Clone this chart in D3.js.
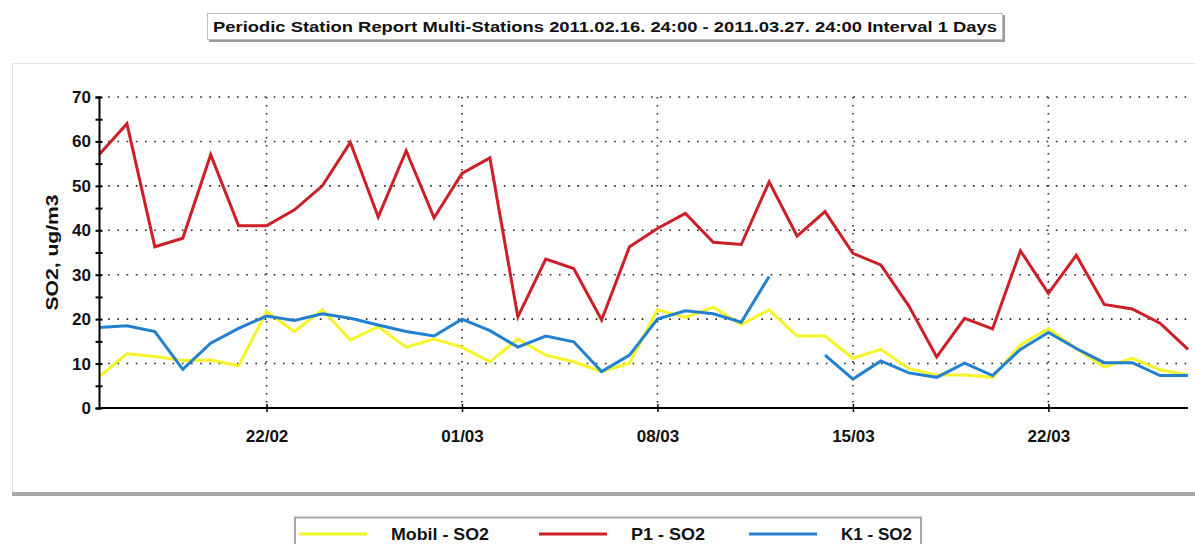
<!DOCTYPE html>
<html>
<head>
<meta charset="utf-8">
<script src="https://cdn.jsdelivr.net/npm/d3@7"></script>
<style>
  body { margin: 0; background: #fff; }
  svg text { font-family: "Liberation Sans Narrow", "Arial Narrow", "Liberation Sans", Arial, sans-serif; font-weight: bold; }
</style>
</head>
<body>
<div id="chart"></div>
<script>
// data, one value per day from 16/02/2011 to 27/03/2011
const startDay = new Date(2011, 1, 16)
const dayCount = 40
const mobil = [7, 12.2, 11.6, 10.7, 10.8, 9.5, 21.7, 17.2, 22.1, 15.3,
               18.3, 13.7, 15.5, 13.7, 10.4, 15.5, 11.9, 10.4, 8.2, 10.1,
               22.1, 20.4, 22.7, 18.8, 22.1, 16.2, 16.2, 11.2, 13.2, 8.9,
               7.4, 7.4, 6.9, 14.2, 17.9, 13.4, 9.2, 11.2, 8.6, 7.4]
const p1 = [57, 64, 36.3, 38.2, 57, 41, 41, 44.6, 50, 59.8,
            43, 57.9, 42.8, 52.8, 56.3, 20.5, 33.5, 31.4, 19.8, 36.3,
            40.4, 43.8, 37.3, 36.8, 50.9, 38.7, 44.2, 34.8, 32.2, 23,
            11.5, 20.2, 17.8, 35.4, 25.8, 34.4, 23.3, 22.3, 19.1, 13.2]
const k1 = [18.1, 18.5, 17.2, 8.7, 14.6, 17.9, 20.7, 19.7, 21.2, 20.2,
            18.7, 17.2, 16.2, 20, 17.4, 13.7, 16.2, 14.9, 8.2, 11.9,
            20, 21.9, 21.2, 19.3, 29.6, null, 11.9, 6.5, 10.6, 7.9,
            6.9, 10.1, 7.3, 13.2, 17, 13.4, 10.2, 10.2, 7.3, 7.3]
const seriesNames = ['Mobil - SO2', 'P1 - SO2', 'K1 - SO2']
const seriesColors = ['#f4f428', '#cc1f26', '#2280d0']
const tickDates = [new Date(2011, 1, 22), new Date(2011, 2, 1), new Date(2011, 2, 8),
                   new Date(2011, 2, 15), new Date(2011, 2, 22)]
const yTicks = [0, 10, 20, 30, 40, 50, 60, 70]
const titleText = 'Periodic Station Report Multi-Stations 2011.02.16. 24:00 - 2011.03.27. 24:00 Interval 1 Days'

const days = d3.range(dayCount).map(i => d3.timeDay.offset(startDay, i))
const allSeries = [mobil, p1, k1]

let dimensions = {
  width: 1195,
  height: 544,
  plot: { left: 99, right: 1188, top: 97, bottom: 408 }
}

const svg = d3.select('#chart')
              .append('svg')
              .attr('width', dimensions.width)
              .attr('height', dimensions.height)

// outer frame
svg.append('rect')
   .attr('x', 12.5).attr('y', 63.5)
   .attr('width', 1200).attr('height', 429)
   .attr('fill', '#fff')
   .attr('stroke', '#e2e2e2')
svg.append('rect')
   .attr('x', 12).attr('y', 492)
   .attr('width', 1190).attr('height', 4)
   .attr('fill', '#a6a6a6')

// title box
svg.append('rect')
   .attr('x', 209).attr('y', 15)
   .attr('width', 796).attr('height', 27)
   .attr('fill', '#9a9a9a')
svg.append('rect')
   .attr('x', 207.5).attr('y', 13.5)
   .attr('width', 795).attr('height', 26)
   .attr('fill', '#fff')
   .attr('stroke', '#bdbdbd')
svg.append('text')
   .attr('x', 605).attr('y', 32)
   .attr('text-anchor', 'middle')
   .attr('font-size', '15px')
   .attr('textLength', 784)
   .attr('lengthAdjust', 'spacingAndGlyphs')
   .attr('fill', '#111')
   .text(titleText)

// scales
const xScale = d3.scaleTime()
                 .domain([days[0], days[dayCount - 1]])
                 .range([dimensions.plot.left, dimensions.plot.right])
const yScale = d3.scaleLinear()
                 .domain([0, 70])
                 .range([dimensions.plot.bottom, dimensions.plot.top])

// dotted grid
svg.append('g')
   .selectAll('line')
   .data(yTicks.slice(1))
   .join('line')
   .attr('x1', dimensions.plot.left).attr('x2', dimensions.plot.right)
   .attr('y1', d => yScale(d)).attr('y2', d => yScale(d))
   .attr('stroke', '#222')
   .attr('stroke-width', 1.6)
   .attr('stroke-dasharray', '1.6,7.6')
svg.append('g')
   .selectAll('line')
   .data(tickDates)
   .join('line')
   .attr('x1', d => xScale(d)).attr('x2', d => xScale(d))
   .attr('y1', dimensions.plot.top).attr('y2', dimensions.plot.bottom)
   .attr('stroke', '#222')
   .attr('stroke-width', 1.6)
   .attr('stroke-dasharray', '1.6,6.4')

// lines
const line = d3.line()
               .defined(d => d.v != null)
               .x(d => xScale(d.day))
               .y(d => yScale(d.v))
allSeries.forEach((values, s) => {
  svg.append('path')
     .datum(values.map((v, i) => ({ day: days[i], v: v })))
     .attr('fill', 'none')
     .attr('stroke', seriesColors[s])
     .attr('stroke-width', 3)
     .attr('stroke-linejoin', 'miter')
     .attr('d', line)
})

// y axis
const yAxis = d3.axisLeft(yScale)
                .tickValues(d3.range(0, 71, 5))
                .tickSize(3.5)
                .tickFormat(d => d % 10 === 0 ? d : '')
const yAxisGroup = svg.append('g')
                      .attr('transform', `translate(${dimensions.plot.left},0)`)
                      .call(yAxis)
yAxisGroup.select('.domain').attr('stroke', '#000').attr('stroke-width', 2)
yAxisGroup.selectAll('.tick line').attr('x2', 3.5).attr('x1', -3.5)
          .attr('stroke', '#000').attr('stroke-width', 2)
yAxisGroup.selectAll('text')
          .attr('x', -8)
          .attr('font-size', '17px')
          .attr('font-family', '"Liberation Sans Narrow", "Arial Narrow", "Liberation Sans", sans-serif')
          .attr('font-weight', 'bold')
          .attr('fill', '#111')

svg.append('text')
   .attr('transform', `translate(58,${(dimensions.plot.top + dimensions.plot.bottom) / 2}) rotate(-90)`)
   .attr('text-anchor', 'middle')
   .attr('font-size', '17px')
   .attr('textLength', 116)
   .attr('lengthAdjust', 'spacingAndGlyphs')
   .attr('fill', '#111')
   .text('SO2, ug/m3')

// x axis
const xAxis = d3.axisBottom(xScale)
                .tickValues(tickDates)
                .tickSize(4)
                .tickFormat(d3.timeFormat('%d/%m'))
const xAxisGroup = svg.append('g')
                      .attr('transform', `translate(0,${dimensions.plot.bottom})`)
                      .call(xAxis)
xAxisGroup.select('.domain').attr('stroke', '#000').attr('stroke-width', 2)
          .attr('d', `M${dimensions.plot.left},0H${dimensions.plot.right}`)
xAxisGroup.selectAll('.tick line').attr('y1', -4).attr('y2', 4)
          .attr('stroke', '#000').attr('stroke-width', 1.5)
xAxisGroup.selectAll('text')
          .attr('y', 22)
          .attr('font-size', '17px')
          .attr('font-family', '"Liberation Sans Narrow", "Arial Narrow", "Liberation Sans", sans-serif')
          .attr('font-weight', 'bold')
          .attr('fill', '#111')

// legend
svg.append('rect')
   .attr('x', 295).attr('y', 517.5)
   .attr('width', 626).attr('height', 40)
   .attr('fill', '#fff')
   .attr('stroke', '#a8a8a8')
   .attr('stroke-width', 2)
const legendX = [299, 539, 749]
const legendTextWidth = [98, 74, 71]
seriesNames.forEach((name, s) => {
  svg.append('line')
     .attr('x1', legendX[s]).attr('x2', legendX[s] + 68)
     .attr('y1', 534).attr('y2', 534)
     .attr('stroke', seriesColors[s])
     .attr('stroke-width', 3)
  svg.append('text')
     .attr('x', legendX[s] + 92).attr('y', 540)
     .attr('font-size', '17px')
     .attr('textLength', legendTextWidth[s])
     .attr('lengthAdjust', 'spacingAndGlyphs')
     .attr('fill', '#111')
     .text(name)
})
</script>
</body>
</html>
